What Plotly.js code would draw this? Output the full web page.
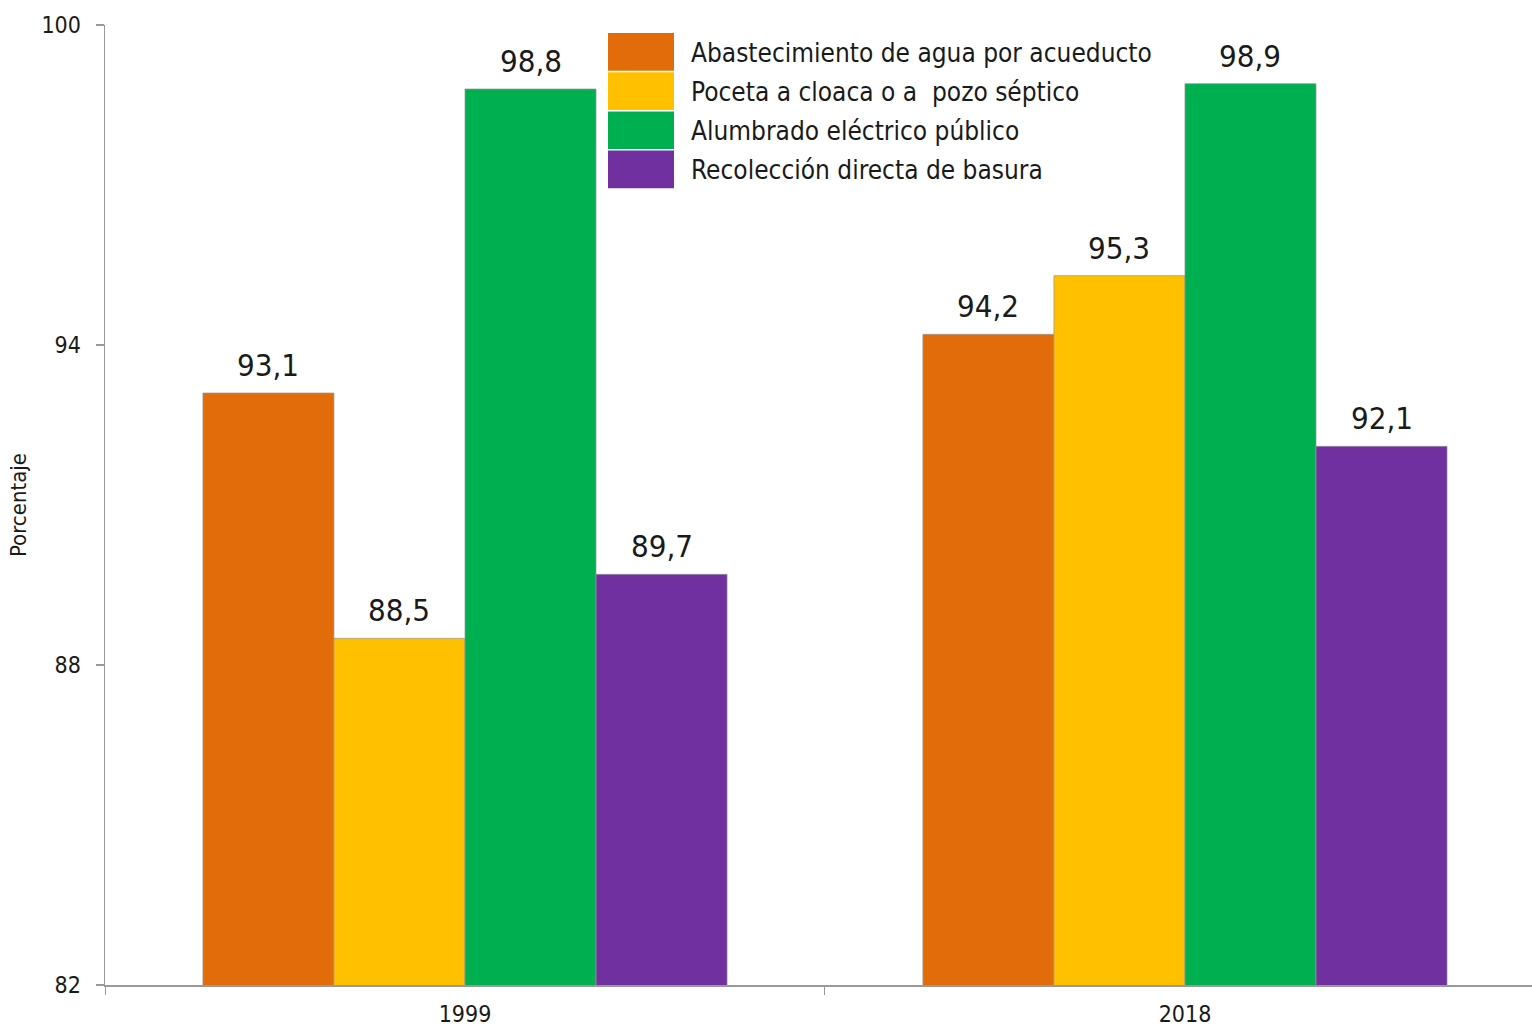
<!DOCTYPE html>
<html>
<head>
<meta charset="utf-8">
<script src="https://cdn.plot.ly/plotly-3.0.1.min.js"></script>
<style>
html,body{margin:0;padding:0;background:#fff;}
#chart{width:1532px;height:1030px;}
</style>
</head>
<body>
<div id="chart"></div>
<script>
const categories = ["1999", "2018"];
const seriesNames = [
  "Abastecimiento de agua por acueducto",
  "Poceta a cloaca o a  pozo séptico",
  "Alumbrado eléctrico público",
  "Recolección directa de basura"
];
const agua = [93.1, 94.2];
const poceta = [88.5, 95.3];
const alumbrado = [98.8, 98.9];
const basura = [89.7, 92.1];
const colors = ["#E36C0A", "#FFC000", "#00B050", "#7030A0"];
const yTicks = [82, 88, 94, 100];

const FONT = "'Liberation Sans Narrow', 'Arial Narrow', 'DejaVu Sans Condensed', sans-serif";
const seriesValues = [agua, poceta, alumbrado, basura];
const BARGAP = 0.272;
const nSeries = seriesValues.length;
const barW = (1 - BARGAP) / nSeries;

const traces = seriesValues.map((vals, i) => ({
  type: "bar",
  name: seriesNames[i],
  x: categories,
  y: vals,
  marker: {color: colors[i], line: {color: "rgba(150,150,150,0.7)", width: 1}},
  showlegend: false,
  hoverinfo: "skip"
}));

const shapes = [];
const annotations = [];

// Value labels above bars, positioned via the axis scale
seriesValues.forEach((vals, i) => {
  const off = (i - (nSeries - 1) / 2) * barW;
  vals.forEach((v, j) => {
    annotations.push({
      xref: "x", yref: "y", x: j + off, y: v,
      xanchor: "center", yanchor: "bottom", yshift: 8,
      showarrow: false,
      text: v.toFixed(1).replace(".", ","),
      font: {family: FONT, size: 31, color: "#1a1a1a"}
    });
  });
});

// Custom legend with large swatches (layout elements)
const plotTop = 25, plotBottom = 985, plotLeft = 105, plotRight = 1532;
const ph = plotBottom - plotTop, pw = plotRight - plotLeft;
const rowH = 39.2, legTop = 33, boxX0 = 608, boxX1 = 674, textX = 689;
seriesNames.forEach((name, i) => {
  const top = legTop + i * rowH;
  shapes.push({
    type: "rect", xref: "paper", yref: "paper",
    x0: (boxX0 - plotLeft) / pw, x1: (boxX1 - plotLeft) / pw,
    y0: (plotBottom - (top + rowH - 1.5)) / ph, y1: (plotBottom - top) / ph,
    fillcolor: colors[i], line: {width: 0}, layer: "above"
  });
  annotations.push({
    xref: "paper", yref: "paper",
    x: (textX - plotLeft) / pw, y: (plotBottom - (top + rowH / 2)) / ph,
    xanchor: "left", yanchor: "middle", showarrow: false,
    text: name,
    font: {family: FONT, size: 26, color: "#1a1a1a"}
  });
});

const layout = {
  width: 1532, height: 1030,
  margin: {l: plotLeft, r: 1532 - plotRight, t: plotTop, b: 1030 - plotBottom},
  paper_bgcolor: "#fff", plot_bgcolor: "#fff",
  barmode: "group",
  bargap: BARGAP,
  bargroupgap: 0,
  font: {family: FONT, color: "#1a1a1a"},
  xaxis: {
    type: "category",
    range: [-0.5, 1.482],
    tickson: "boundaries",
    ticks: "outside", ticklen: 8, tickcolor: "#999", tickwidth: 1,
    showline: true, linecolor: "#999", linewidth: 1.5,
    showgrid: false, zeroline: false,
    ticklabelstandoff: 8,
    tickfont: {family: FONT, size: 23, color: "#1a1a1a"}
  },
  yaxis: {
    range: [82, 100],
    tickvals: yTicks,
    ticktext: yTicks.map(String),
    ticks: "outside", ticklen: 8, tickcolor: "#999", tickwidth: 1.5,
    showline: true, linecolor: "#999", linewidth: 1.5,
    showgrid: false, zeroline: false,
    ticklabelstandoff: 10,
    tickfont: {family: FONT, size: 23, color: "#1a1a1a"},
    title: {text: "Porcentaje", font: {family: FONT, size: 22, color: "#1a1a1a"}, standoff: 8}
  },
  shapes: shapes,
  annotations: annotations,
  showlegend: false
};

Plotly.newPlot("chart", traces, layout, {staticPlot: true, displayModeBar: false});
</script>
</body>
</html>
